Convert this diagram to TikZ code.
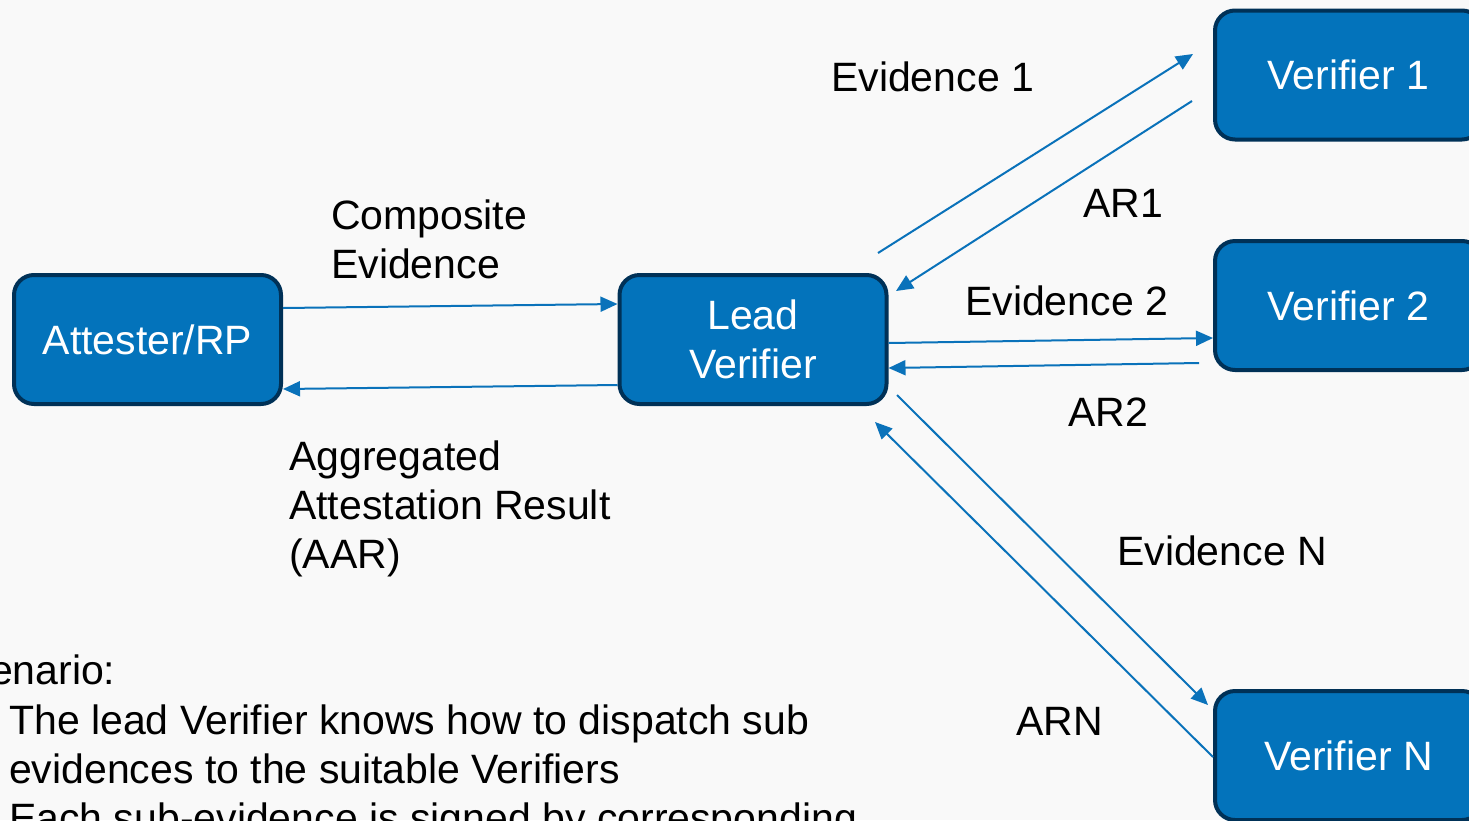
\documentclass[tikz,border=0pt]{standalone}
\usepackage{fontspec}
\setmainfont{Liberation Sans}
\usetikzlibrary{arrows.meta}
\definecolor{pagebg}{HTML}{F9F9F9}
\definecolor{boxfill}{HTML}{0373BB}
\definecolor{boxedge}{HTML}{003157}
\definecolor{linkblue}{HTML}{0A72BA}
\begin{document}
\begin{tikzpicture}[x=1pt,y=-1pt,
  agent/.style={draw=boxedge, fill=boxfill, line width=4pt, rounded corners=20pt,
    minimum width=267pt, minimum height=129pt, inner sep=0pt, outer sep=2pt,
    text=white, align=center, font=\fontsize{41}{49}\selectfont},
  caption/.style={anchor=base west, inner sep=0pt, align=left,
    font=\fontsize{41}{49}\selectfont},
  msg/.style={draw=linkblue, line width=2pt, -{Triangle[length=17pt,width=15pt]}}]

\useasboundingbox (0,0) rectangle (1469,820);
\clip (0,0) rectangle (1469,820);
\fill[pagebg] (0,0) rectangle (1469,820);

% parties
\node[agent] (att)  at (147.5,339.5) {Attester/RP};
\node[agent] (lead) at (753,339.5)   {Lead\\Verifier};
\node[agent] (v1)   at (1348.5,75)   {Verifier 1};
\node[agent] (v2)   at (1348.5,305.5) {Verifier 2};
\node[agent] (vN)   at (1348.5,755.5) {Verifier N};

% free ends of the diagonal messages
\coordinate (e1s) at (878,253);
\coordinate (e1e) at (1193,54);
\coordinate (r1s) at (1192,101);
\coordinate (r1e) at (896,291);
\coordinate (r2s) at (1199,363);
\coordinate (eNs) at (897,395);
\coordinate (eNe) at (1208,705);
\coordinate (rNe) at (875,422);

% messages
\draw[msg] (att.east |- 0,308) -- (lead.west |- 0,304);
\draw[msg] (lead.west |- 0,385) -- (att.east |- 0,389);
\draw[msg] (e1s) -- (e1e);
\draw[msg] (r1s) -- (r1e);
\draw[msg] (lead.east |- 0,343) -- (v2.west |- 0,338);
\draw[msg] (r2s) -- (lead.east |- 0,368);
\draw[msg] (eNs) -- (eNe);
\draw[msg] (vN.west |- 0,757) -- (rNe);

% message labels (multi-line labels sit on their last baseline)
\node[caption] (lbE1)  at (831,91)   {Evidence 1};
\node[caption] (lbCE)  at (331,278)  {Composite\\Evidence};
\node[caption] (lbR1)  at (1083,217) {AR1};
\node[caption] (lbE2)  at (965,315)  {Evidence 2};
\node[caption] (lbR2)  at (1068,426) {AR2};
\node[caption] (lbAAR) at (289,568)  {Aggregated\\Attestation Result\\(AAR)};
\node[caption] (lbEN)  at (1117,565) {Evidence N};
\node[caption] (lbRN)  at (1016,735) {ARN};

% scenario notes
\node[caption] (scen)  at (-58,684) {Scenario:};
\node[caption] (note1) at (9,832)  {The lead Verifier knows how to dispatch sub\\evidences to the suitable Verifiers\\Each sub-evidence is signed by corresponding};
\end{tikzpicture}
\end{document}
